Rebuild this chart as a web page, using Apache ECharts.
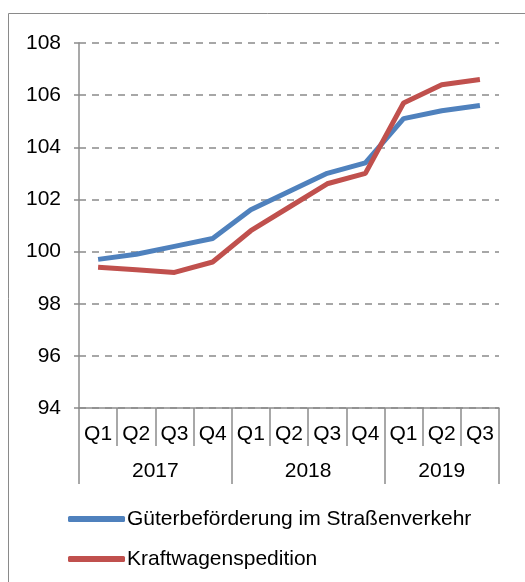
<!DOCTYPE html>
<html>
<head>
<meta charset="utf-8">
<script src="https://cdn.jsdelivr.net/npm/echarts@6/dist/echarts.min.js"></script>
<style>
  html, body { margin: 0; padding: 0; background: #fff; }
  #chart { width: 525px; height: 582px; }
</style>
</head>
<body>
<div id="chart"></div>
<script>
// Daten
var quarters = ['Q1','Q2','Q3','Q4','Q1','Q2','Q3','Q4','Q1','Q2','Q3'];
var years = ['2017', '2018', '2019'];
var quartersPerYear = [4, 4, 3];
var gueterbefoerderung = [99.7, 99.9, 100.2, 100.5, 101.6, 102.3, 103.0, 103.4, 105.1, 105.4, 105.6];
var kraftwagenspedition = [99.4, 99.3, 99.2, 99.6, 100.8, 101.7, 102.6, 103.0, 105.7, 106.4, 106.6];
var yTicks = [94, 96, 98, 100, 102, 104, 106, 108];

// Jahresgrenzen und -mitten aus den Quartalsanzahlen
var yearEdges = [0];
var yearCenters = [];
for (var i = 0; i < quartersPerYear.length; i++) {
    var start = yearEdges[yearEdges.length - 1];
    yearEdges.push(start + quartersPerYear[i]);
    yearCenters.push(start + quartersPerYear[i] / 2);
}

var axisGrey = '#8c8c8c';
var font = 'Liberation Sans, Arial, sans-serif';

var chart = echarts.init(document.getElementById('chart'));

var option = {
    animation: false,
    textStyle: { fontFamily: font },
    graphic: [{
        type: 'rect',
        shape: { x: 8.5, y: 13.5, width: 700, height: 700 },
        style: { fill: 'none', stroke: '#8a8a8a', lineWidth: 1 },
        silent: true
    }],
    grid: { left: 79, right: 26, top: 43, bottom: 174 },
    legend: {
        orient: 'vertical',
        left: 63,
        top: 503,
        icon: 'roundRect',
        itemWidth: 57,
        itemHeight: 6,
        itemGap: 18,
        textStyle: { fontSize: 21, color: '#000', fontFamily: font, lineHeight: 22, padding: [0, 0, 0, -3] },
        data: ['Güterbeförderung im Straßenverkehr', 'Kraftwagenspedition']
    },
    xAxis: [{
        type: 'category',
        data: quarters,
        boundaryGap: true,
        position: 'bottom',
        axisLine: { show: true, lineStyle: { color: axisGrey, width: 1.5 } },
        axisTick: { show: true, interval: 0, length: 38, lineStyle: { color: axisGrey, width: 1.5 } },
        axisLabel: {
            interval: 0, margin: 26, fontSize: 21, color: '#000', fontFamily: font,
            verticalAlign: 'middle', lineHeight: 22
        }
    }, {
        type: 'value',
        min: 0,
        max: quarters.length,
        position: 'bottom',
        axisLine: { show: false },
        splitLine: { show: false },
        axisTick: {
            show: true, length: 76, customValues: yearEdges,
            lineStyle: { color: axisGrey, width: 1.5 }
        },
        axisLabel: {
            customValues: yearCenters, margin: 63, fontSize: 21, color: '#000', fontFamily: font,
            verticalAlign: 'middle', lineHeight: 22,
            formatter: function (v) {
                var idx = yearCenters.indexOf(v);
                return idx >= 0 ? years[idx] : '';
            }
        }
    }],
    yAxis: {
        type: 'value',
        min: yTicks[0],
        max: yTicks[yTicks.length - 1],
        interval: 2,
        axisLine: { show: true, lineStyle: { color: axisGrey, width: 1.5 } },
        axisTick: { show: true, length: 5, lineStyle: { color: axisGrey, width: 1.5 } },
        axisLabel: { margin: 18, fontSize: 21, color: '#000', fontFamily: font },
        splitLine: {
            show: true,
            lineStyle: { color: '#8a8a8a', width: 1.5, type: [7, 6] }
        }
    },
    series: [{
        name: 'Güterbeförderung im Straßenverkehr',
        type: 'line',
        data: gueterbefoerderung,
        symbol: 'none',
        color: '#4F81BD',
        lineStyle: { width: 5, color: '#4F81BD' }
    }, {
        name: 'Kraftwagenspedition',
        type: 'line',
        data: kraftwagenspedition,
        symbol: 'none',
        color: '#C0504D',
        lineStyle: { width: 5, color: '#C0504D' }
    }]
};

chart.setOption(option);
</script>
</body>
</html>
